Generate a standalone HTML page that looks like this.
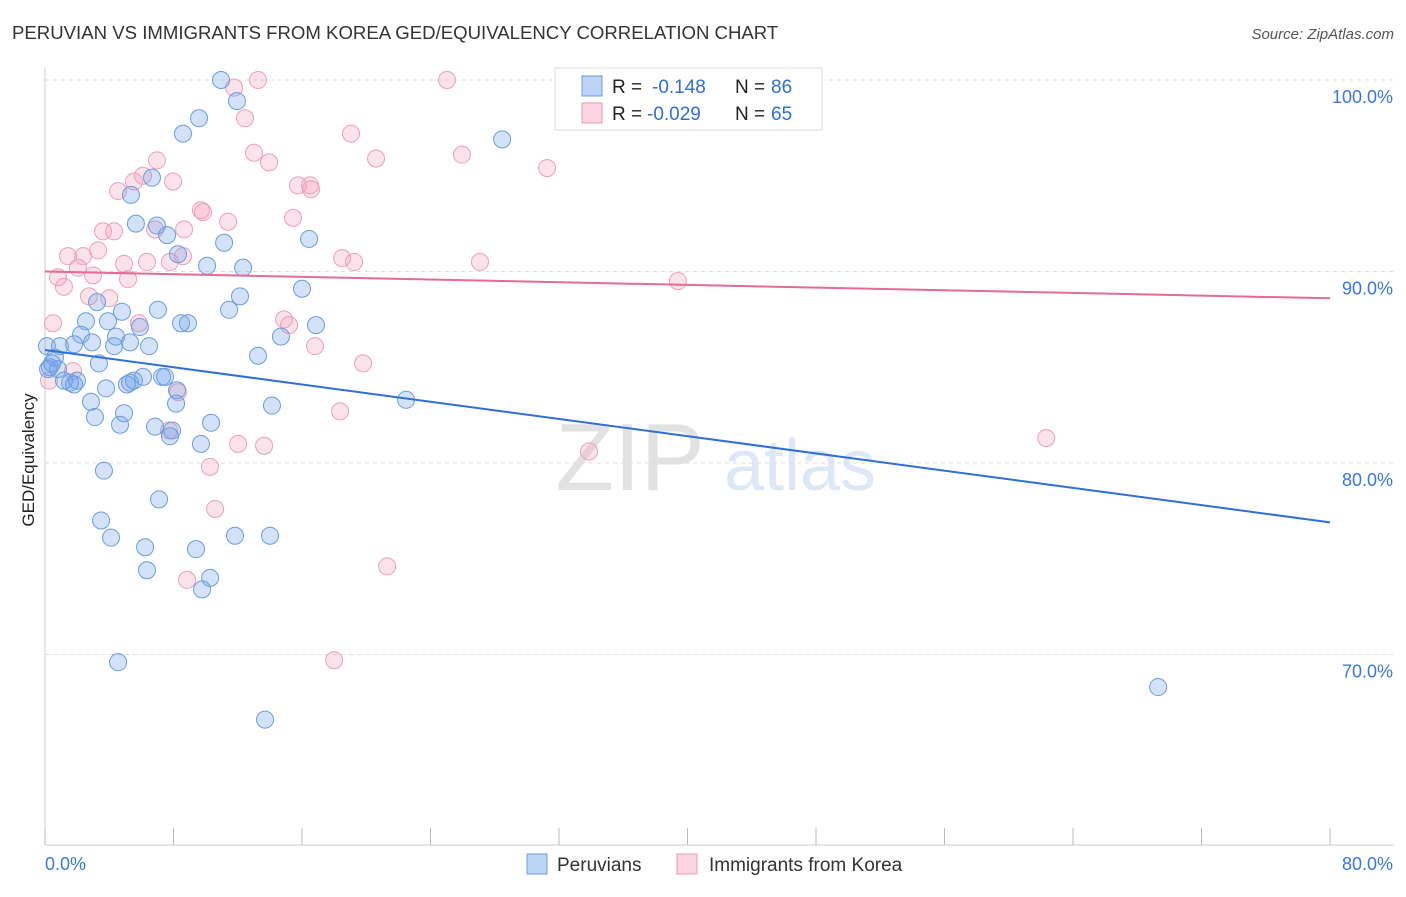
<!DOCTYPE html>
<html><head><meta charset="utf-8"><style>
body{margin:0;background:#fff;font-family:"Liberation Sans",sans-serif;}
svg text{font-family:"Liberation Sans",sans-serif;}
</style></head><body>
<svg id="chart" width="1406" height="892" xmlns="http://www.w3.org/2000/svg">
<text x="12" y="39" font-size="18.6" fill="#333">PERUVIAN VS IMMIGRANTS FROM KOREA GED/EQUIVALENCY CORRELATION CHART</text>
<text x="1394" y="39" font-size="15" fill="#555" font-style="italic" text-anchor="end">Source: ZipAtlas.com</text>
<g opacity="0.18">
<text x="630" y="490" font-size="96" font-family="Liberation Serif" fill="#666" text-anchor="middle">ZIP</text>
<text x="800" y="490" font-size="72" fill="#4a7fd8" text-anchor="middle">atlas</text>
</g>
<g id="grid"></g>
<g id="axes"></g>
<g id="pts"></g>
<g id="lines"></g>
<text transform="translate(34,460) rotate(-90)" font-size="17" fill="#222" text-anchor="middle">GED/Equivalency</text>
<g>
<rect x="555" y="68" width="267" height="62" fill="#fff" stroke="#ddd"/>
<rect x="582" y="76" width="20" height="20" fill="rgba(110,160,235,0.45)" stroke="#6a9de0"/>
<rect x="582" y="103" width="20" height="20" fill="rgba(245,160,190,0.45)" stroke="#e999b5"/>
<text x="612" y="93" font-size="19" fill="#222">R =</text>
<text x="652" y="93" font-size="19" fill="#2f6fd6">-0.148</text>
<text x="735" y="93" font-size="19" fill="#222">N =</text>
<text x="771" y="93" font-size="19" fill="#2f6fd6">86</text>
<text x="612" y="120" font-size="19" fill="#222">R =</text>
<text x="647" y="120" font-size="19" fill="#2f6fd6">-0.029</text>
<text x="735" y="120" font-size="19" fill="#222">N =</text>
<text x="771" y="120" font-size="19" fill="#2f6fd6">65</text>
</g>
<g>
<rect x="527" y="854" width="20" height="20" fill="rgba(110,160,235,0.45)" stroke="#6a9de0"/>
<text x="557" y="871" font-size="19" fill="#333">Peruvians</text>
<rect x="677" y="854" width="20" height="20" fill="rgba(245,160,190,0.45)" stroke="#e999b5"/>
<text x="709" y="871" font-size="19" fill="#333">Immigrants from Korea</text>
</g>
</svg>
<script>
const yTicks=[100,90,80,70];
const yTickLabels=["100.0%","90.0%","80.0%","70.0%"];
const xTicks=[0,8,16,24,32,40,48,56,64,72,80];
const blueX=[10.96,11.95,9.59,8.59,28.46,6.66,5.35,5.66,6.97,7.6,11.15,16.44,8.28,10.09,12.33,16.0,12.14,3.24,7.03,11.46,4.79,2.55,3.92,8.47,8.9,16.87,5.91,2.24,4.42,14.69,2.93,5.29,0.12,0.93,4.3,6.48,1.81,13.26,0.62,3.36,0.44,0.19,0.81,6.1,7.29,7.47,1.18,1.99,1.56,1.81,5.29,5.54,3.8,5.1,8.22,2.86,8.16,22.48,14.13,4.92,3.11,10.34,4.67,6.85,7.91,7.78,9.71,3.67,7.1,3.49,4.11,11.83,14.01,6.23,9.4,6.35,10.28,9.78,4.55,69.3,13.7,0.3];
const blueY=[100,98.9,98,97.2,96.9,94.9,94,92.5,92.4,91.9,91.5,91.7,90.9,90.3,90.2,89.1,88.7,88.4,88,88,87.9,87.4,87.4,87.3,87.3,87.2,87.1,86.7,86.6,86.6,86.3,86.3,86.1,86.1,86.1,86.1,86.2,85.6,85.5,85.2,85.2,84.9,84.9,84.5,84.5,84.5,84.3,84.3,84.2,84.1,84.2,84.3,83.9,84.1,83.8,83.2,83.1,83.3,83,82.6,82.4,82.1,82,81.9,81.7,81.4,81,79.6,78.1,77,76.1,76.2,76.2,75.6,75.5,74.4,74,73.4,69.6,68.3,66.6,85.0];
const pinkX=[13.26,25.03,11.77,12.45,19.05,13.01,25.96,20.61,6.97,13.95,31.26,6.1,5.54,7.97,15.75,16.5,16.56,4.55,9.71,9.84,11.4,15.44,6.85,8.66,3.61,4.3,3.3,2.37,1.43,8.59,6.35,7.78,18.5,19.24,27.08,4.92,2.05,2.99,0.81,5.17,39.4,1.18,2.74,4.0,14.88,15.19,5.85,0.5,16.81,19.8,1.74,0.25,8.28,18.37,7.72,12.02,13.64,33.87,62.33,10.27,10.59,21.3,8.84,18.0];
const pinkY=[100,100,99.6,98,97.2,96.2,96.1,95.9,95.8,95.7,95.4,95,94.7,94.7,94.5,94.5,94.3,94.2,93.2,93.1,92.6,92.8,92.2,92.2,92.1,92.1,91.1,90.8,90.8,90.8,90.5,90.5,90.7,90.5,90.5,90.4,90.2,89.8,89.7,89.6,89.5,89.2,88.7,88.6,87.5,87.2,87.3,87.3,86.1,85.2,84.8,84.3,83.7,82.7,81.7,81,80.9,80.6,81.3,79.8,77.6,74.6,73.9,69.7];
const blueTrend=[85.9,76.9];
const pinkTrend=[90.0,88.6];
const X0=45,X1=1330,Y100=80,PX10=191.5;
const sx=v=>X0+(X1-X0)*v/80;
const sy=v=>Y100+(100-v)*PX10/10;
const NS="http://www.w3.org/2000/svg";
function mk(t,a,p){const e=document.createElementNS(NS,t);for(const k in a)e.setAttribute(k,a[k]);p.appendChild(e);return e;}
const grid=document.getElementById('grid'),axes=document.getElementById('axes'),pts=document.getElementById('pts'),lines=document.getElementById('lines');
yTicks.forEach((v,i)=>{
 const l=mk('line',{x1:X0,x2:1394,y1:sy(v),y2:sy(v),stroke:'#ddd','stroke-dasharray':'4,4'},grid);
 
 
 const t=mk('text',{x:1393,y:sy(v)+23,'font-size':18,fill:'#3b78d8','text-anchor':'end'},axes);
 t.textContent=yTickLabels[i];
 
 
});
const xa=mk('line',{x1:X0,x2:1394,y1:845,y2:845,stroke:'#ccc'},axes);


const ya=mk('line',{x1:X0,x2:X0,y1:68,y2:845,stroke:'#ccc'},axes);


xTicks.forEach(v=>{
 const l=mk('line',{x1:sx(v),x2:sx(v),y1:828,y2:845,stroke:'#bbb'},axes);
 
 
});
const xl0=mk('text',{x:45,y:870,'font-size':18,fill:'#3b78d8'},axes);xl0.textContent='0.0%';


const xl1=mk('text',{x:1393,y:870,'font-size':18,fill:'#3b78d8','text-anchor':'end'},axes);xl1.textContent='80.0%';


pinkX.forEach((x,i)=>{
 const c=mk('circle',{cx:sx(x),cy:sy(pinkY[i]),r:8.5,fill:'rgba(245,160,190,0.3)',stroke:'#eba0ba','stroke-width':1},pts);
 
 
});
blueX.forEach((x,i)=>{
 const c=mk('circle',{cx:sx(x),cy:sy(blueY[i]),r:8.5,fill:'rgba(110,160,235,0.3)',stroke:'#6a9de0','stroke-width':1},pts);
 
 
});
const bl=mk('line',{x1:sx(0),y1:sy(blueTrend[0]),x2:sx(80),y2:sy(blueTrend[1]),stroke:'#2f6fd6','stroke-width':2},lines);


const pl=mk('line',{x1:sx(0),y1:sy(pinkTrend[0]),x2:sx(80),y2:sy(pinkTrend[1]),stroke:'#e56a94','stroke-width':2},lines);


</script>
</body></html>
